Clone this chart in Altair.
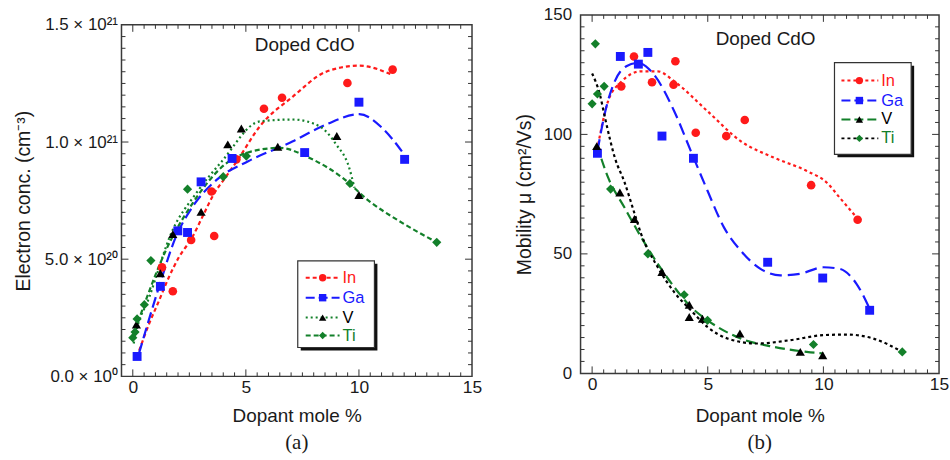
import altair as alt
import pandas as pd

# ---------------- panel (a): electron concentration, in units of 1e20 cm^-3
series_names = ["In", "Ga", "V", "Ti"]

a_in_x = [1.29, 1.77, 2.58, 3.48, 3.6, 4.58, 5.8, 6.6, 9.49, 11.49]
a_in_y = [4.65, 3.63, 5.82, 7.89, 5.99, 9.26, 11.42, 11.89, 12.52, 13.09]
a_ga_x = [0.19, 1.22, 1.99, 2.42, 3.02, 4.39, 7.6, 10.0, 12.02]
a_ga_y = [0.85, 3.84, 6.21, 6.14, 8.3, 9.3, 9.55, 11.7, 9.26]
a_v_x = [0.16, 1.22, 1.77, 3.02, 4.2, 4.8, 6.41, 9.02, 10.0]
a_v_y = [2.21, 4.4, 6.07, 7.02, 9.9, 10.58, 9.8, 10.26, 7.74]
a_ti_x = [0.0, 0.1, 0.19, 0.51, 0.8, 2.42, 4.0, 5.02, 9.6, 13.44]
a_ti_y = [1.65, 1.89, 2.45, 3.06, 4.94, 7.99, 8.52, 9.4, 8.23, 5.72]

# fitted guide curves
a_in_fit_x = [0.28, 0.72, 1.16, 1.59, 2.03, 2.62, 3.13, 3.57, 4.08, 4.6, 5.62, 7.08, 8.55, 10.01, 11.48]
a_in_fit_y = [1.1, 2.24, 3.23, 4.22, 5.07, 5.92, 6.91, 7.76, 8.47, 9.18, 10.67, 11.94, 13.0, 13.26, 12.86]
a_ga_fit_x = [0.27, 1.15, 1.89, 2.62, 3.8, 5.1, 7.08, 8.55, 10.01, 11.03, 11.9]
a_ga_fit_y = [0.97, 3.79, 5.92, 7.2, 8.46, 9.18, 10.03, 10.75, 11.19, 10.6, 9.6]
a_v_fit_x = [0.04, 0.13, 0.72, 1.74, 2.77, 3.94, 5.62, 7.08, 8.26, 8.99, 9.57, 9.8]
a_v_fit_y = [1.4, 1.83, 3.36, 6.2, 7.77, 9.18, 10.88, 10.96, 10.67, 9.9, 8.9, 8.05]
a_ti_fit_x = [0.0, 0.57, 1.45, 2.62, 4.08, 5.26, 6.5, 7.82, 9.28, 10.45, 11.76, 13.44]
a_ti_fit_y = [1.67, 3.23, 5.35, 7.35, 9.05, 9.6, 9.75, 9.32, 8.47, 7.48, 6.64, 5.72]

a_ytick_values = [0, 5, 10, 15]
a_ytick_labels = ["0.0 \u00d7 10\u2070", "5.0 \u00d7 10\u00b2\u2070", "1.0 \u00d7 10\u00b2\u00b9", "1.5 \u00d7 10\u00b2\u00b9"]

# ---------------- panel (b): mobility (cm^2/Vs)
b_in_x = [1.26, 1.81, 2.59, 3.52, 3.6, 4.48, 5.8, 6.6, 9.47, 11.48]
b_in_y = [120.1, 132.6, 121.8, 120.8, 130.6, 100.7, 99.3, 106.0, 78.75, 64.3]
b_ga_x = [0.23, 1.22, 2.0, 2.41, 3.02, 4.38, 7.59, 9.97, 12.0]
b_ga_y = [92.1, 132.6, 129.4, 134.3, 99.3, 90.0, 46.5, 39.9, 26.4]
b_v_x = [0.2, 1.2, 1.83, 3.02, 4.2, 4.2, 4.77, 6.39, 9.0, 9.97]
b_v_y = [95.1, 75.7, 64.6, 42.4, 28.75, 23.6, 22.9, 16.7, 9.0, 7.6]
b_ti_x = [0.0, 0.14, 0.23, 0.52, 0.8, 2.41, 3.98, 4.99, 9.57, 13.41]
b_ti_y = [112.8, 137.9, 116.9, 120.1, 77.1, 50.0, 32.9, 22.2, 12.1, 9.0]

b_in_fit_x = [0.26, 0.69, 1.26, 2.12, 2.84, 3.55, 4.99, 6.42, 7.85, 9.28, 10.14, 10.7, 11.43]
b_in_fit_y = [95.8, 113.9, 122.0, 126.4, 126.4, 122.2, 109.7, 97.2, 90.3, 84.7, 79.9, 73.6, 65.3]
b_ga_fit_x = [0.23, 0.57, 0.97, 1.48, 1.98, 2.55, 3.55, 4.27, 4.99, 5.7, 6.42, 7.28, 8.14, 9.0, 10.0, 10.7, 11.43, 12.0]
b_ga_fit_y = [93.0, 109.7, 122.0, 128.5, 129.9, 126.4, 109.7, 93.0, 76.4, 61.1, 51.4, 43.75, 41.0, 41.7, 44.4, 43.75, 37.5, 27.0]
b_v_fit_x = [0.2, 0.69, 1.4, 2.12, 2.84, 3.55, 4.27, 4.99, 6.42, 7.85, 9.28, 10.0]
b_v_fit_y = [95.8, 82.0, 69.4, 57.0, 45.8, 36.1, 27.8, 22.2, 14.6, 11.1, 9.0, 8.3]
b_ti_fit_x = [0.0, 0.34, 0.56, 0.99, 1.4, 1.83, 2.12, 2.84, 3.55, 4.27, 4.99, 5.85, 7.13, 8.57, 10.0, 11.0, 12.15, 13.41]
b_ti_fit_y = [125.5, 116.5, 106.8, 90.0, 80.0, 67.0, 58.3, 44.4, 34.0, 26.4, 19.4, 14.6, 12.5, 13.9, 16.0, 16.25, 14.6, 9.0]

b_ytick_values = [0, 50, 100, 150]
b_ytick_labels = ["0", "50", "100", "150"]

x_major = [0, 5, 10, 15]
x_major_labels = ["0", "5", "10", "15"]

# ---------------- styling
FONT = "Liberation Sans"
SERIF = "Liberation Serif"
TXT = "#1a1a1a"
TICK = "#333333"
RED = "#ff1a1a"
BLUE = "#1a1aff"
GREEN = "#13802a"
BLACK = "#000000"
MAJ, MIN = 7, 4
XDOM = [-0.5, 15]


def df(xs, ys):
    return pd.DataFrame({"x": xs, "y": ys})


def label_expr(values, labels):
    expr = "''"
    for v, l in reversed(list(zip(values, labels))):
        expr = f"datum.value === {v} ? '{l}' : ({expr})"
    return expr


def inward_ticks(width, height, ydom, ystep, ymajor):
    """Tick marks on all four sides of the frame, pointing inward (drawn through the scales)."""
    xpp = (XDOM[1] - XDOM[0]) / width
    ypp = (ydom[1] - ydom[0]) / height
    rows = []
    k = 0
    while k * 0.5 < XDOM[1]:
        v = k * 0.5
        L = MAJ if v in x_major else MIN
        rows.append((v, v, ydom[0], ydom[0] + L * ypp))
        rows.append((v, v, ydom[1], ydom[1] - L * ypp))
        k += 1
    n = int(round((ydom[1] - ydom[0]) / ystep))
    for i in range(1, n):
        v = ydom[0] + i * ystep
        L = MAJ if v in ymajor else MIN
        rows.append((XDOM[0], XDOM[0] + L * xpp, v, v))
        rows.append((XDOM[1], XDOM[1] - L * xpp, v, v))
    return pd.DataFrame(rows, columns=["x", "x2", "y", "y2"])


def panel(width, height, ydom, ystep, ylab_vals, ylab_txt, ytitle, ytitle_x,
          xtitle_y, curves, points, anno_xy, legend, letter, label_pad_y):
    xscale = alt.Scale(domain=XDOM, nice=False, zero=False)
    yscale = alt.Scale(domain=ydom, nice=False, zero=False)

    xaxis = alt.Axis(values=x_major, labelExpr=label_expr(x_major, x_major_labels),
                     ticks=False, domain=False, grid=False,
                     labelFont=FONT, labelFontSize=17.5, labelColor=TXT, labelPadding=2,
                     labelFlush=False, labelOverlap=False,
                     title="Dopant mole %", titleFont=FONT, titleFontSize=19,
                     titleFontWeight="normal", titleColor=TXT, titleBaseline="middle",
                     titleY=xtitle_y)
    yaxis = alt.Axis(values=ylab_vals, labelExpr=label_expr(ylab_vals, ylab_txt),
                     ticks=False, domain=False, grid=False,
                     labelFont=FONT, labelFontSize=17, labelColor=TXT, labelPadding=label_pad_y,
                     labelFlush=False, labelOverlap=False,
                     title=ytitle, titleFont=FONT, titleFontSize=19.5, titleFontWeight="normal",
                     titleColor=TXT, titleBaseline="middle", titleAlign="center",
                     titleX=ytitle_x, titleY=height / 2)

    layers = [
        alt.Chart(inward_ticks(width, height, ydom, ystep, ylab_vals))
        .mark_rule(color=TICK, strokeWidth=1)
        .encode(x=alt.X("x:Q", scale=xscale, axis=xaxis), x2="x2:Q",
                y=alt.Y("y:Q", scale=yscale, axis=yaxis), y2="y2:Q")
    ]
    for (xs, ys, color, dash) in curves:
        layers.append(
            alt.Chart(df(xs, ys)).mark_line(color=color, strokeDash=dash, strokeWidth=2.2,
                                            interpolate="monotone")
            .encode(x=alt.X("x:Q", scale=xscale, axis=None),
                    y=alt.Y("y:Q", scale=yscale, axis=None),
                    order="x:Q")
        )
    for (xs, ys, color, shape, size) in points:
        layers.append(
            alt.Chart(df(xs, ys)).mark_point(filled=True, color=color, shape=shape, size=size,
                                             opacity=1)
            .encode(x=alt.X("x:Q", scale=xscale, axis=None),
                    y=alt.Y("y:Q", scale=yscale, axis=None))
        )
    # annotation
    layers.append(
        alt.Chart(pd.DataFrame({"x": [anno_xy[0]], "y": [anno_xy[1]], "t": ["Doped CdO"]}))
        .mark_text(font=FONT, fontSize=19, color=TXT)
        .encode(x=alt.X("x:Q", scale=xscale, axis=None),
                y=alt.Y("y:Q", scale=yscale, axis=None), text="t:N")
    )
    # legend box
    (bx1, by1, bx2, by2), rows, (lx1, lx2, mx, tx), entries = legend
    one = pd.DataFrame({"k": [0]})
    layers.append(alt.Chart(one).mark_rect(color="#111").encode(
        x=alt.value(bx1 + 3), x2=alt.value(bx2 + 3), y=alt.value(by1 + 3), y2=alt.value(by2 + 3)))
    layers.append(alt.Chart(one).mark_rect(fill="white", stroke="#333", strokeWidth=1.2).encode(
        x=alt.value(bx1), x2=alt.value(bx2), y=alt.value(by1), y2=alt.value(by2)))
    for ry, name, (lcolor, dash, shape, mcolor, tcolor) in zip(rows, series_names, entries):
        d = pd.DataFrame({"name": [name]})
        layers.append(alt.Chart(d).mark_rule(color=lcolor, strokeDash=dash, strokeWidth=2)
                      .encode(x=alt.value(lx1), x2=alt.value(lx2), y=alt.value(ry)))
        layers.append(alt.Chart(d).mark_point(filled=True, opacity=1, color=mcolor, shape=shape, size=55)
                      .encode(x=alt.value(mx), y=alt.value(ry)))
        layers.append(alt.Chart(d).mark_text(font=FONT, fontSize=16.5, color=tcolor, align="left",
                                             baseline="middle")
                      .encode(x=alt.value(tx), y=alt.value(ry), text="name:N"))
    # panel letter
    layers.append(alt.Chart(pd.DataFrame({"t": [letter[0]]}))
                  .mark_text(font=SERIF, fontSize=21, color=TXT)
                  .encode(x=alt.value(width / 2), y=alt.value(letter[1]), text="t:N"))

    return alt.layer(*layers).resolve_axis(x="independent", y="independent").properties(
        width=width, height=height)


left = panel(
    352, 353, [0, 15], 0.5, a_ytick_values, a_ytick_labels,
    "Electron conc. (cm\u207b\u00b3)", -98, 39,
    curves=[(a_in_fit_x, a_in_fit_y, RED, [4, 3]),
            (a_ga_fit_x, a_ga_fit_y, BLUE, [11, 5]),
            (a_v_fit_x, a_v_fit_y, GREEN, [2, 3]),
            (a_ti_fit_x, a_ti_fit_y, GREEN, [5, 3])],
    points=[(a_in_x, a_in_y, RED, "circle", 75),
            (a_ga_x, a_ga_y, BLUE, "square", 80),
            (a_v_x, a_v_y, BLACK, "triangle-up", 85),
            (a_ti_x, a_ti_y, GREEN, "diamond", 85)],
    anno_xy=(7.6, 14.15),
    legend=((177, 237, 254, 324), [254, 274, 294, 312], (185, 219, 202, 222),
            [(RED, [4, 3], "circle", RED, RED),
             (BLUE, [9, 4], "square", BLUE, BLUE),
             (GREEN, [2, 3], "triangle-up", BLACK, BLACK),
             (GREEN, [5, 3], "diamond", GREEN, GREEN)]),
    letter=("(a)", 420), label_pad_y=4,
)

right = panel(
    360, 360, [0, 150], 5, b_ytick_values, b_ytick_labels,
    "Mobility \u03bc (cm\u00b2/Vs)", -56, 42,
    curves=[(b_in_fit_x, b_in_fit_y, RED, [3, 3]),
            (b_ga_fit_x, b_ga_fit_y, BLUE, [12, 6]),
            (b_v_fit_x, b_v_fit_y, GREEN, [10, 5]),
            (b_ti_fit_x, b_ti_fit_y, BLACK, [3, 3])],
    points=[(b_in_x, b_in_y, RED, "circle", 75),
            (b_ga_x, b_ga_y, BLUE, "square", 80),
            (b_v_x, b_v_y, BLACK, "triangle-up", 85),
            (b_ti_x, b_ti_y, GREEN, "diamond", 85)],
    anno_xy=(7.5, 140),
    legend=((255, 48, 332, 140), [66, 86, 105, 124], (262, 299, 280, 302),
            [(RED, [3, 3], "circle", RED, RED),
             (BLUE, [9, 4], "square", BLUE, BLUE),
             (GREEN, [9, 4], "triangle-up", BLACK, BLACK),
             (BLACK, [3, 3], "diamond", GREEN, GREEN)]),
    letter=("(b)", 430), label_pad_y=9,
)

# a thin invisible strip above panel (a) so that its frame starts lower than panel (b)'s
spacer = alt.Chart(pd.DataFrame({"k": [0]})).mark_point(size=0, opacity=0).encode(
    x=alt.value(0), y=alt.value(0)
).properties(width=352, height=1, view=alt.ViewBackground(strokeOpacity=0))

left_col = alt.vconcat(spacer, left, spacing=-1)

chart = alt.hconcat(left_col, right, spacing=31).properties(
    padding={"left": 13, "top": 4, "right": 0, "bottom": 0}, background="white"
).configure_view(stroke="#3a3a3a", strokeWidth=1.5)

chart.save("out.html", embed_options={"renderer": "svg", "actions": False})
